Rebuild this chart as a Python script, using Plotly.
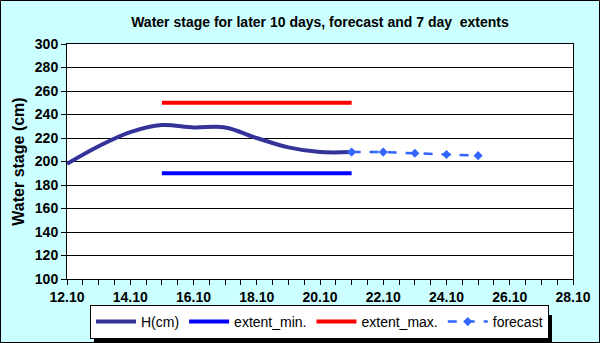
import plotly.graph_objects as go

# ---- data ----
h_dates = ["2008-10-12", "2008-10-13", "2008-10-14", "2008-10-15", "2008-10-16",
           "2008-10-17", "2008-10-18", "2008-10-19", "2008-10-20", "2008-10-21"]
h_values = [198, 213, 225, 231, 229, 229, 220, 212, 208, 208]

extent_dates = ["2008-10-15", "2008-10-21"]
extent_min = [190, 190]
extent_max = [250, 250]

fc_dates = ["2008-10-21", "2008-10-22", "2008-10-23", "2008-10-24", "2008-10-25"]
fc_values = [208, 208, 207, 206, 205]

title_text = "Water stage for later 10 days, forecast and 7 day  extents"
y_title = "Water stage (cm)"

FONT = "Liberation Sans, Arial, sans-serif"
BG = "#ccffff"

fig = go.Figure()
fig.add_trace(go.Scatter(x=h_dates, y=h_values, name="H(cm)", mode="lines",
                         line=dict(color="#333399", width=4, shape="spline", smoothing=1.0)))
fig.add_trace(go.Scatter(x=extent_dates, y=extent_min, name="extent_min.", mode="lines",
                         line=dict(color="#0000ff", width=4)))
fig.add_trace(go.Scatter(x=extent_dates, y=extent_max, name="extent_max.", mode="lines",
                         line=dict(color="#ff0000", width=4)))
fig.add_trace(go.Scatter(x=fc_dates, y=fc_values, name="forecast", mode="lines+markers",
                         line=dict(color="#3366ff", width=2.5, dash="dash"),
                         marker=dict(symbol="diamond", size=7, color="#3366ff")))

# geometry helpers (paper coords)
L, R, T, B = 67, 27, 44, 64
W, H = 600, 343
pw, ph = W - L - R, H - T - B
def px(x):
    return (x - L) / pw
def py(y):
    return (H - B - y) / ph

shapes = [
    # legend shadow
    dict(type="rect", xref="paper", yref="paper",
         x0=px(94), x1=px(552), y0=py(342), y1=py(315),
         fillcolor="black", line=dict(width=0), layer="below"),
    # outer border
    dict(type="rect", xref="paper", yref="paper",
         x0=px(0.5), x1=px(599.5), y0=py(342.5), y1=py(0.5),
         line=dict(color="black", width=1)),
]

fig.update_layout(
    width=W, height=H,
    margin=dict(l=L, r=R, t=T, b=B, autoexpand=False),
    paper_bgcolor=BG, plot_bgcolor="white",
    font=dict(family=FONT, color="black"),
    title=dict(text="<b>" + title_text + "</b>", x=320 / W, xanchor="center",
               y=1 - 22 / H, yanchor="middle", font=dict(size=14)),
    showlegend=True,
    legend=dict(orientation="h", x=px(90), xanchor="left", y=py(339), yanchor="bottom",
                bgcolor="white", bordercolor="black", borderwidth=1,
                font=dict(size=14), itemwidth=40, tracegroupgap=0),
    shapes=shapes,
)

fig.update_xaxes(
    type="date", range=["2008-10-12", "2008-10-28"],
    tick0="2008-10-12", dtick=2 * 86400000, tickformat="%d.%m",
    ticks="outside", ticklen=5, tickcolor="black", tickwidth=1,
    minor=dict(dtick=43200000, ticks="outside", ticklen=5, tickcolor="black", showgrid=False),
    showgrid=False, showline=True, linecolor="black", linewidth=1, mirror=True,
    tickfont=dict(size=14, weight="bold"), zeroline=False, fixedrange=True,
)
fig.update_yaxes(
    range=[100, 300], dtick=20, tick0=100,
    ticks="outside", ticklen=5, tickcolor="black",
    showgrid=True, gridcolor="black", gridwidth=1,
    showline=True, linecolor="black", linewidth=1, mirror=True,
    tickfont=dict(size=14, weight="bold"), zeroline=False,
    title=dict(text="<b>" + y_title + "</b>", font=dict(size=16), standoff=6),
)

fig.write_html("out.html")
